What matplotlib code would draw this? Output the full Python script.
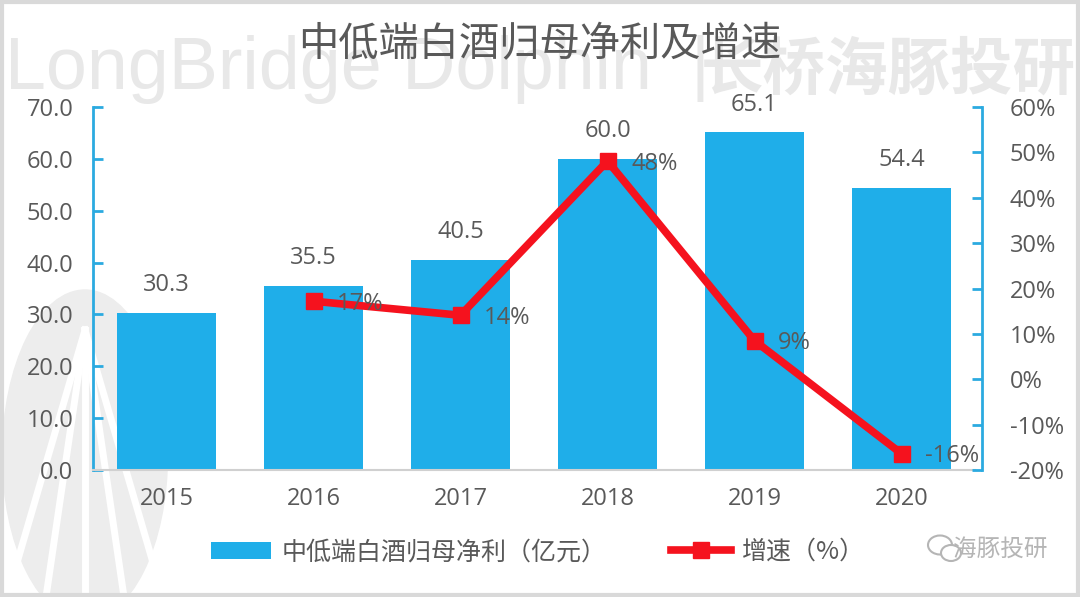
import matplotlib
matplotlib.use("Agg")
import matplotlib.pyplot as plt
import numpy as np
from matplotlib.patches import Ellipse, Rectangle

plt.rcParams['font.family'] = ['Open Sans', 'Noto Sans CJK SC', 'DejaVu Sans']

# 数据
years = ['2015', '2016', '2017', '2018', '2019', '2020']
profit = [30.3, 35.5, 40.5, 60.0, 65.1, 54.4]       # 亿元
growth_years = ['2016', '2017', '2018', '2019', '2020']
growth = [17.2, 14.1, 48.1, 8.5, -16.4]            # %
growth_labels = ['17%', '14%', '48%', '9%', '-16%']

bar_color = '#1FAEE9'
line_color = '#F5121E'
txt_color = '#595959'
axis_color = '#2BAAE0'
wm_color = '#E8E8E8'

fig = plt.figure(figsize=(10.8, 5.97), dpi=100)

# 背景水印层（像素坐标）
bg = fig.add_axes([0, 0, 1, 1])
bg.set_xlim(0, 1080)
bg.set_ylim(597, 0)
bg.axis('off')
bg.add_patch(Rectangle((2, 2), 1076, 593, fill=False, ec='#D9D9D9', lw=3))
bg.add_patch(Ellipse((85, 455), 165, 330, color='#EDEDED', zorder=0))
for dx in [-60, -30, 0, 30, 60]:
    bg.plot([85, 85 + dx * 1.3], [330, 597], color='white', lw=5, zorder=0.5)
bg.text(5, 70, 'LongBridge Dolphin', fontsize=53, color=wm_color,
        va='center', ha='left', family=['Liberation Sans', 'DejaVu Sans'])
bg.text(700, 68, '|', fontsize=52, color=wm_color, va='center', ha='center',
        family=['Liberation Sans'])
bg.text(1076, 70, '长桥海豚投研', fontsize=45, color=wm_color, va='center', ha='right',
        family=['Noto Sans CJK SC'], fontweight='bold')
bg.text(540, 45, '中低端白酒归母净利及增速', fontsize=29, color=txt_color,
        ha='center', va='center', family=['Noto Sans CJK SC'])
bg.text(1000, 549, '海豚投研', fontsize=17, color='#B5B5B5', ha='center', va='center',
        family=['Noto Sans CJK SC'])
# 微信图标（两个气泡）
bg.add_patch(Ellipse((940, 545), 24, 19, fill=False, ec='#B5B5B5', lw=1.5))
bg.add_patch(Ellipse((951, 553), 20, 16, fc='white', ec='#B5B5B5', lw=1.5))

ax = fig.add_axes([93 / 1080, 1 - 470 / 597, (975 - 93) / 1080, 363 / 597])
ax.patch.set_alpha(0)
x = np.arange(len(years))
bars = ax.bar(x, profit, width=0.67, color=bar_color, zorder=2)
ax.set_xlim(-0.5, len(years) - 0.5)
ax.set_ylim(0, 70)
ax.set_yticks(np.arange(0, 71, 10))
ax.set_yticklabels(['%.1f' % v for v in np.arange(0, 71, 10)])
ax.set_xticks(x)
ax.set_xticklabels(years)
for i, v in enumerate(profit):
    ax.text(i, v + 3, '%.1f' % v, ha='center', va='bottom', fontsize=17, color=txt_color)

for s in ['top', 'right']:
    ax.spines[s].set_visible(False)
ax.spines['left'].set_color(axis_color)
ax.spines['left'].set_linewidth(2)
ax.spines['bottom'].set_color('#D0D0D0')
ax.spines['bottom'].set_linewidth(1.5)
ax.tick_params(axis='y', direction='in', length=7, width=2, color=axis_color,
               labelsize=17, labelcolor=txt_color, pad=14)
ax.tick_params(axis='x', length=0, labelsize=17, labelcolor=txt_color, pad=12)

ax2 = ax.twinx()
gx = [years.index(y) for y in growth_years]
line, = ax2.plot(gx, growth, color=line_color, lw=5.5, marker='s', markersize=11,
                 zorder=3)
ax2.set_ylim(-20, 60)
ax2.set_yticks(np.arange(-20, 61, 10))
ax2.set_yticklabels(['%d%%' % v for v in np.arange(-20, 61, 10)])
for s in ['top', 'left', 'bottom']:
    ax2.spines[s].set_visible(False)
ax2.spines['right'].set_color(axis_color)
ax2.spines['right'].set_linewidth(2)
ax2.spines['right'].set_position(('outward', 5))
ax2.tick_params(axis='y', direction='in', length=7, width=2, color=axis_color,
                labelsize=17, labelcolor=txt_color, pad=20)
for xi, v, lab in zip(gx, growth, growth_labels):
    ax2.annotate(lab, (xi, v), xytext=(17, -2), textcoords='offset points',
                 ha='left', va='center', fontsize=17, color=txt_color, zorder=4)

fig.legend([bars, line], ['中低端白酒归母净利（亿元）', '增速（%）'], loc='center',
           bbox_to_anchor=(538 / 1080, 1 - 552 / 597), ncol=2, frameon=False,
           labelcolor=txt_color, handlelength=2.4, handletextpad=0.4, columnspacing=2.6,
           prop={'family': ['Noto Sans CJK SC'], 'size': 18})

fig.savefig('out.png', dpi=100)
